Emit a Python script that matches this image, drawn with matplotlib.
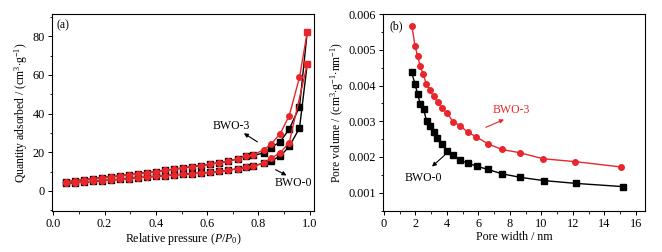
import matplotlib
matplotlib.use("Agg")
import matplotlib.pyplot as plt
from matplotlib.ticker import MultipleLocator

plt.rcParams['font.family'] = ['Liberation Serif', 'DejaVu Serif']
plt.rcParams['mathtext.fontset'] = 'custom'
plt.rcParams['mathtext.rm'] = 'Liberation Serif'
plt.rcParams['mathtext.it'] = 'Liberation Serif:italic'
plt.rcParams['font.size'] = 8.5

# ---- Panel (a): N2 isotherms ----
p_low = [0.05, 0.085, 0.12, 0.155, 0.19, 0.225, 0.26, 0.295, 0.33, 0.365, 0.40, 0.435,
         0.47, 0.505, 0.54, 0.575, 0.61, 0.645, 0.68, 0.72, 0.75, 0.78]
low_ads = [4.0, 4.3, 4.6, 5.0, 5.3, 5.7, 6.0, 6.4, 6.9, 7.2, 7.6, 7.9,
           8.3, 8.6, 8.9, 9.3, 9.6, 10.1, 10.7, 11.5, 12.2, 13.0]
low_des = [4.8, 5.3, 5.8, 6.4, 6.9, 7.4, 7.9, 8.4, 8.9, 9.5, 10.0, 10.7,
           11.2, 11.9, 12.6, 13.1, 13.8, 14.6, 15.3, 16.7, 17.9, 18.8]

bwo3_ads_p = p_low + [0.82, 0.85, 0.885, 0.92]
bwo3_ads_q = low_ads + [14.3, 16.9, 19.8, 25.0]
bwo3_des_p = p_low + [0.82, 0.85, 0.885, 0.92, 0.96]
bwo3_des_q = low_des + [21.2, 24.3, 29.6, 39.0, 58.7]
end_p = [0.99, 0.99]
end_q = [65.4, 82.0]

bwo0_ads_p = p_low + [0.82, 0.85, 0.885, 0.92, 0.96]
bwo0_ads_q = low_ads + [14.3, 15.7, 18.0, 23.0, 32.5]
bwo0_des_p = p_low + [0.82, 0.85, 0.885, 0.92, 0.96]
bwo0_des_q = low_des[:-1] + [18.4, 19.6, 22.4, 25.5, 32.0, 43.5]

# ---- Panel (b): pore size distribution ----
w3 = [1.78, 1.97, 2.14, 2.31, 2.50, 2.69, 2.92, 3.15, 3.41, 3.70, 4.02, 4.38, 4.83,
      5.31, 5.88, 6.60, 7.49, 8.63, 10.12, 12.15, 15.07]
v3 = [0.00566, 0.00512, 0.00482, 0.00454, 0.00431, 0.00405, 0.00387, 0.00370, 0.00353,
      0.00336, 0.00323, 0.00299, 0.00288, 0.00270, 0.00256, 0.00237, 0.00221, 0.00212,
      0.00195, 0.00187, 0.00172]
w0 = [1.76, 1.97, 2.14, 2.31, 2.52, 2.71, 2.92, 3.15, 3.39, 3.70, 4.02, 4.40, 4.83,
      5.33, 5.91, 6.62, 7.49, 8.66, 10.14, 12.21, 15.20]
v0 = [0.00438, 0.00404, 0.00377, 0.00348, 0.00333, 0.00301, 0.00286, 0.00269, 0.00253,
      0.00236, 0.00218, 0.00206, 0.00191, 0.00183, 0.00174, 0.00165, 0.00153, 0.00143,
      0.00134, 0.00126, 0.00117]

RED = '#e8262b'
fig = plt.figure(figsize=(6.62, 2.52), dpi=100)
axa = fig.add_axes([0.0785, 0.163, 0.396, 0.781])
axb = fig.add_axes([0.579, 0.163, 0.395, 0.781])

ms = 4.0
# BWO-0 (black squares), lines run to the shared end points
axa.plot(bwo0_ads_p + [end_p[0]], bwo0_ads_q + [end_q[0]], color='black', lw=1.0)
axa.plot(bwo0_des_p + [end_p[1]], bwo0_des_q + [end_q[1]], color='black', lw=1.0)
axa.plot(bwo0_ads_p, bwo0_ads_q, color='black', lw=0, marker='s', ms=ms)
axa.plot(bwo0_des_p, bwo0_des_q, color='black', lw=0, marker='s', ms=ms)
# BWO-3 (red)
axa.plot(bwo3_ads_p + [end_p[0]], bwo3_ads_q + [end_q[0]], color=RED, lw=1.0)
axa.plot(bwo3_des_p + [end_p[1]], bwo3_des_q + [end_q[1]], color=RED, lw=1.0)
axa.plot(bwo3_ads_p, bwo3_ads_q, color=RED, lw=0, marker='o', ms=ms)
axa.plot(bwo3_des_p, bwo3_des_q, color=RED, lw=0, marker='o', ms=ms)
axa.plot(end_p, end_q, color=RED, lw=0, marker='s', ms=ms)

axa.set_xlim(-0.005, 1.017)
axa.set_ylim(-10.3, 91.4)
axa.xaxis.set_major_locator(MultipleLocator(0.2))
axa.xaxis.set_minor_locator(MultipleLocator(0.1))
axa.yaxis.set_major_locator(MultipleLocator(20))
axa.yaxis.set_minor_locator(MultipleLocator(10))
axa.xaxis.set_major_formatter(plt.FuncFormatter(lambda v, p: f"{v:.1f}"))
axa.set_xlabel(r"Relative pressure ($P$/$P_0$)", fontsize=8.6, labelpad=1)
axa.set_ylabel(r"Quantity adsorbed / (cm$^3$$\cdot$g$^{-1}$)", fontsize=8.4, labelpad=2)
axa.text(0.039, 85.7, "(a)", ha='center', va='center', fontsize=8.5)
axa.annotate("", xy=(0.734, 30.6), xytext=(0.805, 24.6),
             arrowprops=dict(arrowstyle='-|>', color='black', lw=0.8, mutation_scale=6))
axa.text(0.695, 33.7, "BWO-3", ha='center', va='center', fontsize=8.5)
axa.annotate("", xy=(0.919, 7.4), xytext=(0.857, 11.7),
             arrowprops=dict(arrowstyle='-|>', color='black', lw=0.8, mutation_scale=6))
axa.text(0.938, 4.3, "BWO-0", ha='center', va='center', fontsize=8.5)

axb.plot(w3, v3, color=RED, lw=1.0, marker='o', ms=ms)
axb.plot(w0, v0, color='black', lw=1.0, marker='s', ms=ms)
axb.set_xlim(-0.04, 16.57)
axb.set_ylim(0.00049, 0.006)
axb.xaxis.set_major_locator(MultipleLocator(2))
axb.xaxis.set_minor_locator(MultipleLocator(1))
axb.yaxis.set_major_locator(MultipleLocator(0.001))
axb.yaxis.set_minor_locator(MultipleLocator(0.0005))
axb.yaxis.set_major_formatter(plt.FuncFormatter(lambda v, p: f"{v:.3f}"))
axb.set_xlabel("Pore width / nm", fontsize=8.6, labelpad=1)
axb.set_ylabel(r"Pore volume / (cm$^3$$\cdot$g$^{-1}$$\cdot$nm$^{-1}$)", fontsize=8.4, labelpad=2)
axb.text(0.8, 0.00566, "(b)", ha='center', va='center', fontsize=8.5)
axb.annotate("", xy=(7.79, 0.00308), xytext=(6.31, 0.0028),
             arrowprops=dict(arrowstyle='-|>', color=RED, lw=0.8, mutation_scale=6))
axb.text(8.1, 0.00331, "BWO-3", ha='center', va='center', fontsize=8.5, color=RED)
axb.annotate("", xy=(2.92, 0.00168), xytext=(3.98, 0.0021),
             arrowprops=dict(arrowstyle='-|>', color='black', lw=0.8, mutation_scale=6))
axb.text(2.5, 0.0014, "BWO-0", ha='center', va='center', fontsize=8.5)

for ax in (axa, axb):
    ax.tick_params(which='both', direction='out', labelsize=8.8, top=False, right=False, pad=2)
    ax.tick_params(which='major', length=3, width=0.7)
    ax.tick_params(which='minor', length=1.8, width=0.6)
    for s in ax.spines.values():
        s.set_linewidth(0.8)

fig.savefig("out.png", dpi=100)
